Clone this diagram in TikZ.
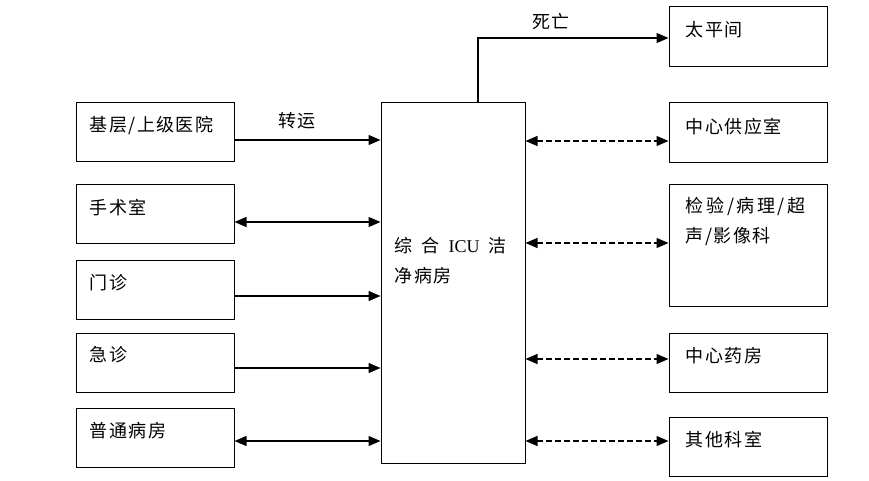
\documentclass[tikz,border=0pt]{standalone}
\usepackage{fontspec}
\setmainfont{Liberation Serif}
\newfontfamily\cjk[LetterSpace=8]{Noto Sans CJK SC}
\usetikzlibrary{arrows.meta}
\begin{document}
\begin{tikzpicture}[x=1pt,y=-1pt,
  box/.style={draw, line width=1pt, minimum width=158pt, inner sep=0pt},
  lbl/.style={anchor=west, inner sep=0pt, font=\cjk\fontsize{18}{30}\selectfont, align=left},
  tip/.tip={Triangle[length=12pt,width=10pt]},
  arr/.style={line width=1.2pt, -tip},
  barr/.style={line width=1.2pt, tip-tip},
  darr/.style={barr, dash pattern=on 5.5pt off 3.5pt}]
\useasboundingbox (0,0) rectangle (869,481);
\fill[white] (0,0) rectangle (869,481);
% left column
\node[box, minimum height=59pt, label={[lbl,xshift=14pt,yshift=-23pt]north west:基层/上级医院}] (a1) at (155,132.5) {};
\node[box, minimum height=59pt, label={[lbl,xshift=14pt,yshift=-24pt]north west:手术室}] (a2) at (155,213.5) {};
\node[box, minimum height=59pt, label={[lbl,xshift=14pt,yshift=-23pt]north west:门诊}] (a3) at (155,289.5) {};
\node[box, minimum height=59pt, label={[lbl,xshift=14pt,yshift=-22pt]north west:急诊}] (a4) at (155,362.5) {};
\node[box, minimum height=59pt, label={[lbl,xshift=14pt,yshift=-23pt]north west:普通病房}] (a5) at (155,437.5) {};
% centre
\node[box, minimum width=144pt, minimum height=360pt, label={[lbl,xshift=14pt,yshift=-158pt]north west:{\makebox[112pt][s]{综\hfill 合\hfill {\rmfamily ICU}\hfill 洁}\\净病房}}] (c) at (453,283) {};
% right column
\node[box, minimum height=60pt, label={[lbl,xshift=17pt,yshift=-23pt]north west:太平间}] (r1) at (748,37) {};
\node[box, minimum height=60pt, label={[lbl,xshift=17pt,yshift=-24pt]north west:中心供应室}] (r2) at (748,133) {};
\node[box, minimum height=122pt, label={[lbl,xshift=17pt,yshift=-38pt]north west:{\makebox[120pt][s]{检\hfill 验\hfill /\hfill 病\hfill 理\hfill /\hfill 超}\\声/影像科}}] (r3) at (748,245) {};
\node[box, minimum height=59pt, label={[lbl,xshift=17pt,yshift=-23pt]north west:中心药房}] (r4) at (748,362.5) {};
\node[box, minimum height=59pt, label={[lbl,xshift=17pt,yshift=-23pt]north west:其他科室}] (r5) at (748,446.5) {};
% labels
\node[lbl, anchor=center] (tr) at (297,121) {转运};
\node[lbl, anchor=center] (sw) at (551,22) {死亡};
% connectors
\draw[arr] (a1.east |- 0,140) -- (c.west |- 0,140);
\draw[barr] (a2.east |- 0,222) -- (c.west |- 0,222);
\draw[arr] (a3.east |- 0,296) -- (c.west |- 0,296);
\draw[arr] (a4.east |- 0,368) -- (c.west |- 0,368);
\draw[barr] (a5.east |- 0,441) -- (c.west |- 0,441);
\draw[arr] ([xshift=25pt]c.north) |- (r1.west |- 0,38);
\draw[darr] (c.east |- 0,141) -- (r2.west |- 0,141);
\draw[darr] (c.east |- 0,243) -- (r3.west |- 0,243);
\draw[darr] (c.east |- 0,359) -- (r4.west |- 0,359);
\draw[darr] (c.east |- 0,441) -- (r5.west |- 0,441);
\end{tikzpicture}
\end{document}
